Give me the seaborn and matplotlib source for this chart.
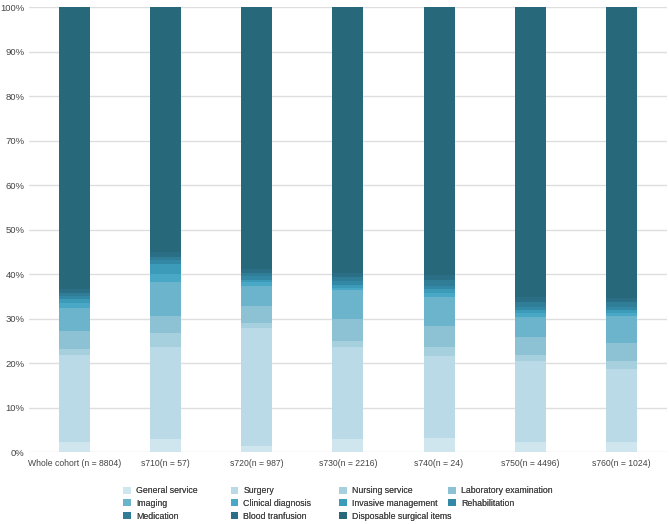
import numpy as np
import pandas as pd
import seaborn as sns
import matplotlib.pyplot as plt
from matplotlib.patches import Patch
from matplotlib.ticker import PercentFormatter

sns.set_style("white")
plt.rcParams['font.family'] = ['Liberation Sans', 'DejaVu Sans']

groups = ["Whole cohort (n = 8804)", "s710(n = 57)", "s720(n = 987)", "s730(n = 2216)",
          "s740(n = 24)", "s750(n = 4496)", "s760(n = 1024)"]

# share of cost (%) per item, one value per group
general_service = [2.4, 3.0, 1.3, 3.0, 3.3, 2.4, 2.4]
surgery = [19.5, 20.6, 26.7, 20.6, 18.3, 18.2, 16.3]
nursing_service = [1.3, 3.1, 1.0, 1.5, 2.0, 1.3, 1.9]
laboratory = [4.1, 3.9, 3.9, 4.8, 4.8, 4.1, 3.9]
imaging = [5.2, 7.7, 4.5, 6.5, 6.6, 4.4, 6.1]
clinical_diag = [1.0, 1.8, 0.8, 0.6, 0.8, 0.8, 0.8]
invasive = [0.9, 2.2, 0.6, 0.6, 0.8, 0.8, 0.6]
rehabilitation = [0.7, 0.8, 0.8, 0.8, 0.8, 0.7, 0.6]
medication = [0.8, 0.8, 0.7, 1.0, 1.3, 1.1, 1.2]
blood = [0.7, 1.0, 0.8, 0.9, 1.2, 1.2, 0.9]
disposable = [63.4, 55.1, 58.9, 59.7, 60.1, 65.0, 65.3]

items = ["General service", "Surgery", "Nursing service", "Laboratory examination",
         "Imaging", "Clinical diagnosis", "Invasive management", "Rehabilitation",
         "Medication", "Blood tranfusion", "Disposable surgical items"]
colors = ["#cfe6ee", "#b9dae6", "#a7d0df", "#8dc2d5", "#6cb3cc", "#48a8c5",
          "#3b9bb9", "#3389a5", "#2f7d97", "#2b6f87", "#27687b"]

df = pd.DataFrame([general_service, surgery, nursing_service, laboratory, imaging,
                   clinical_diag, invasive, rehabilitation, medication, blood, disposable],
                  index=items, columns=groups).T
# normalise so each bar ends at 100%
df = df.div(df.sum(axis=1), axis=0) * 100
cum = df.cumsum(axis=1)

fig = plt.figure(figsize=(6.69, 5.24), dpi=100)
ax = fig.add_axes([0.043, 0.137, 0.954, 0.849])

# stacked look: draw cumulative totals from the top item down
for item, col in reversed(list(zip(items, colors))):
    sns.barplot(x=cum.index, y=cum[item].values, color=col, width=0.34,
                saturation=1, ax=ax, zorder=2, linewidth=0, edgecolor='none')

ax.set_ylim(0, 100)
ax.set_xlim(-0.5, 6.5)
ax.set_yticks(np.arange(0, 101, 10))
ax.yaxis.set_major_formatter(PercentFormatter(decimals=0))
ax.grid(axis='y', color='#dedede', linewidth=1, zorder=0)
ax.set_axisbelow(True)
for s in ax.spines.values():
    s.set_visible(False)
ax.tick_params(axis='y', length=0, labelsize=6.8, colors='#444444', pad=3)
ax.tick_params(axis='x', length=0, labelsize=6.2, colors='#444444', pad=5)
ax.set_xlabel("")
ax.set_ylabel("")

# legend: 4 fixed-width columns, rows read left to right
col_x = [0.184, 0.345, 0.507, 0.670]
for c in range(4):
    idx = list(range(c, len(items), 4))
    hs = [Patch(facecolor=colors[i], edgecolor='none') for i in idx]
    leg = fig.legend(hs, [items[i] for i in idx], loc='upper left',
                     bbox_to_anchor=(col_x[c], 0.072), frameon=False, fontsize=6.3,
                     labelcolor='#444444', handlelength=0.85, handleheight=0.85,
                     handletextpad=0.6, labelspacing=0.42, borderpad=0, borderaxespad=0)
    fig.add_artist(leg)

fig.savefig("out.png", dpi=100)
